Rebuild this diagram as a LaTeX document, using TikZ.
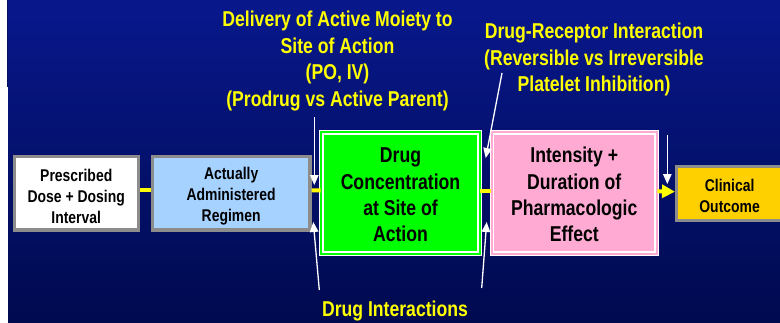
\documentclass[tikz,border=0pt]{standalone}
\usepackage{fontspec}
\setmainfont{Liberation Sans}[FakeStretch=0.82]
\usetikzlibrary{arrows.meta}

\definecolor{navytop}{RGB}{8,24,140}
\definecolor{navybot}{RGB}{0,10,78}
\definecolor{navyedge}{RGB}{4,14,90}
\definecolor{boxgray}{RGB}{140,140,140}
\definecolor{regblue}{RGB}{166,210,255}
\definecolor{concgreen}{RGB}{0,255,0}
\definecolor{effectpink}{RGB}{255,170,210}
\definecolor{outcomegold}{RGB}{255,208,0}
\definecolor{labelyellow}{RGB}{255,255,0}

% a strut on the first line lowers a box's text block a little
\newcommand{\firststrut}[1]{\rule{0pt}{#1}}

\begin{document}
\begin{tikzpicture}[x=1pt,y=-1pt,
  flatbox/.style={draw=boxgray, line width=3.3pt, inner sep=0pt, align=center,
    text=black, font=\bfseries\fontsize{17}{21}\selectfont},
  dblbox/.style={draw=white, line width=1.3pt, double distance=2pt, inner sep=0pt,
    align=center, text=black, font=\bfseries\fontsize{21.5}{26.4}\selectfont},
  lbl/.style={text=labelyellow, align=center, inner sep=0pt,
    font=\bfseries\fontsize{21.5}{26.5}\selectfont},
  flow/.style={draw=labelyellow, line width=4pt},
  flowarrow/.style={flow, -{Triangle[length=13pt,width=13pt]}},
  pointer/.style={draw=white, line width=1.3pt, -{Triangle[length=10pt,width=8.5pt]}}
]
% page and backdrop
\fill[white] (0,0) rectangle (780,322);
\shade[top color=navytop, bottom color=navybot] (8,0) rectangle (780,322);
\fill[navyedge] (7,0) rectangle (8,87);
\useasboundingbox (0,0) rectangle (780,322);

% process chain
\node[flatbox, fill=white, minimum width=124.1pt, minimum height=73.3pt]
  (dose) at (76.25,193.35) {\firststrut{17.5pt}Prescribed\\Dose + Dosing\\Interval};
\node[flatbox, fill=regblue, minimum width=157.7pt, minimum height=73.3pt]
  (regimen) at (231.15,193.35) {\firststrut{17.5pt}Actually\\Administered\\Regimen};
\node[dblbox, fill=concgreen, double=concgreen, minimum width=158.4pt, minimum height=121.4pt]
  (conc) at (400.5,193) {\firststrut{18.7pt}Drug\\Concentration\\at Site of\\Action};
\node[dblbox, fill=effectpink, double=effectpink, minimum width=164.9pt, minimum height=121.4pt]
  (effect) at (574.25,193) {\firststrut{18.7pt}Intensity +\\Duration of\\Pharmacologic\\Effect};
\node[flatbox, fill=outcomegold, minimum width=106pt, minimum height=53.8pt]
  (outcome) at (729.6,193.5) {\firststrut{16.4pt}Clinical\\Outcome};

% yellow flow links
\draw[flow] ([yshift=3pt]dose.east) -- ([yshift=3pt]regimen.east -| regimen.west);
\draw[flow] ([yshift=3pt]regimen.east) -- ([yshift=2.5pt]conc.west);
\draw[flow] ([yshift=2.3pt]conc.east) -- ([yshift=2.3pt]effect.west);
\draw[flowarrow] ([yshift=1.8pt]effect.east) -- ([yshift=1.8pt]outcome.west);

% captions
\node[lbl, anchor=base] (delivery) at (337.5,106)
  {Delivery of Active Moiety to\\Site of Action\\(PO, IV)\\(Prodrug vs Active Parent)};
\node[lbl, anchor=base] (receptor) at (594,91.7)
  {Drug-Receptor Interaction\\(Reversible vs Irreversible\\Platelet Inhibition)};
\node[lbl, anchor=base] (interact) at (395,316) {Drug Interactions};

% pointer ends
\coordinate (p1s) at (314.3,117);
\coordinate (p1e) at (314.3,185);
\coordinate (p2s) at (319.3,290);
\coordinate (p2e) at (313.3,222);
\coordinate (p3s) at (502,73);
\coordinate (p3e) at (485.7,158);
\coordinate (p4s) at (481.7,288);
\coordinate (p4e) at (486.7,222);
\coordinate (p5s) at (667.3,135);
\coordinate (p5e) at (667.3,184);

\draw[pointer] (p1s) -- (p1e);
\draw[pointer] (p2s) -- (p2e);
\draw[pointer] (p3s) -- (p3e);
\draw[pointer] (p4s) -- (p4e);
\draw[pointer] (p5s) -- (p5e);
\end{tikzpicture}
\end{document}
